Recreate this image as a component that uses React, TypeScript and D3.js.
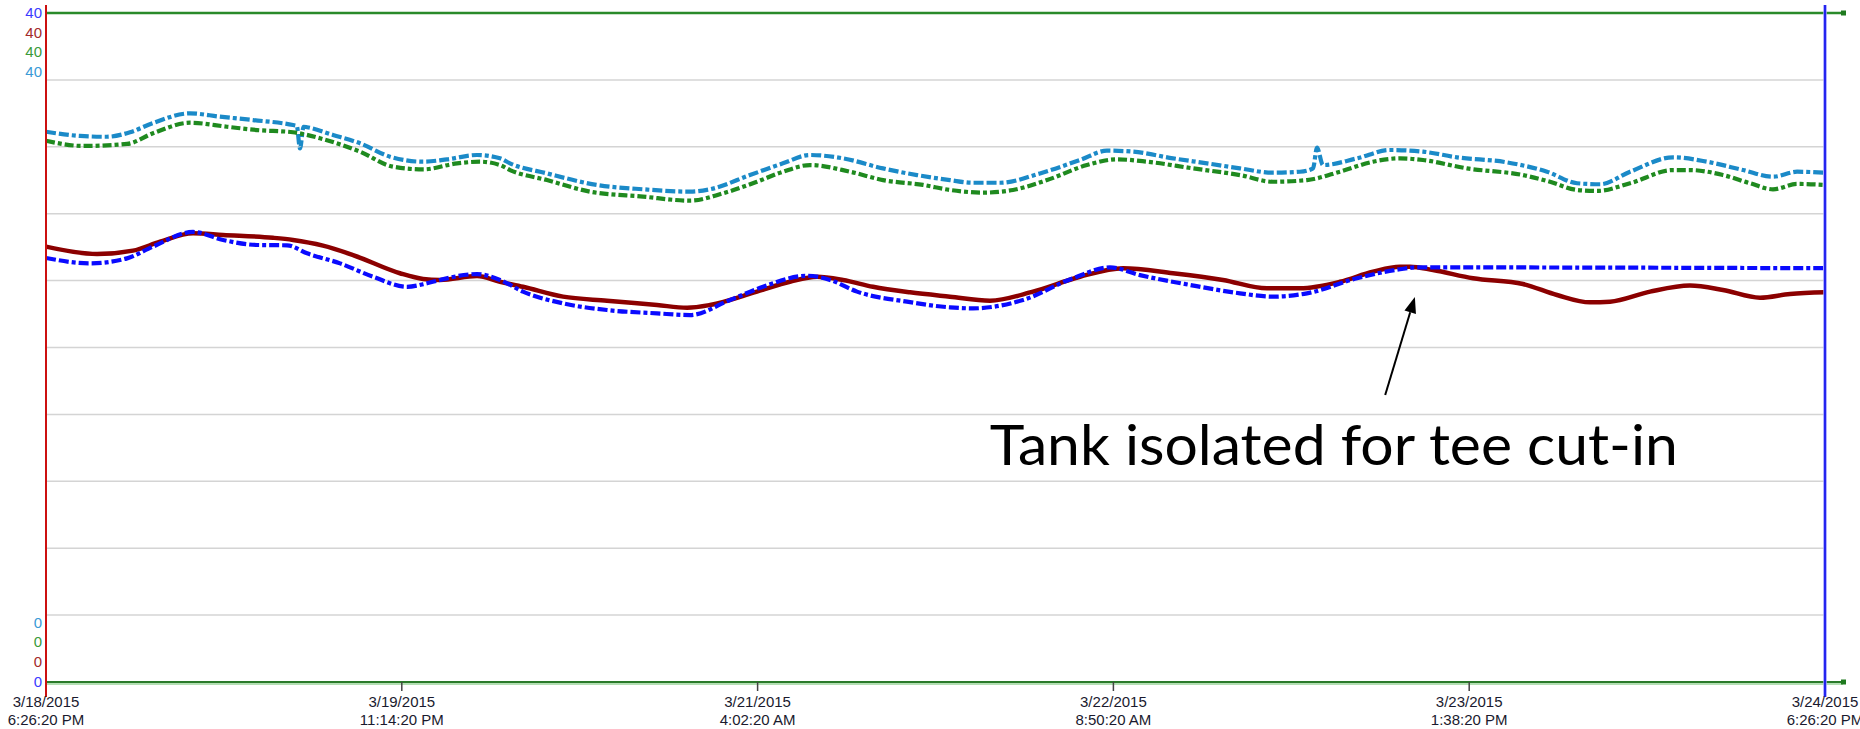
import React from "react";
import * as d3 from "d3";

const W = 1860;
const H = 729;

// time axis (hours after 3/18/2015 6:26:20 PM)
const xTickHours = [0, 28.8, 57.6, 86.4, 115.2, 144];
const xTickDates = ["3/18/2015", "3/19/2015", "3/21/2015", "3/22/2015", "3/23/2015", "3/24/2015"];
const xTickTimes = ["6:26:20 PM", "11:14:20 PM", "4:02:20 AM", "8:50:20 AM", "1:38:20 PM", "6:26:20 PM"];
const yGridValues = [4, 8, 12, 16, 20, 24, 28, 32, 36];

// series: light blue (dash-dot)
const lightBlueHours = [0, 2.75, 4.91, 6.8, 8.66, 11.66, 14.08, 16.76, 19.99, 20.3, 20.56, 20.85, 21.13, 23.23, 25.42, 27.84, 30.52, 32.46, 34.89, 36.75, 37.56, 40.55, 44.6, 48.32, 52.13, 53.75, 56.98, 59.65, 61.84, 64.51, 67.75, 70.5, 73.17, 75.03, 77.22, 80.46, 83.7, 85.88, 87.98, 91.22, 93.98, 96.64, 99.32, 101.5, 102.56, 102.88, 103.36, 106.12, 108.79, 111.46, 114.21, 118.26, 121.5, 123.93, 125.79, 128.22, 131.7, 134.45, 137.37, 139.79, 141.74, 144];
const lightBlueValues = [32.9, 32.65, 32.6, 32.87, 33.42, 34.0, 33.8, 33.6, 33.3, 33.25, 31.9, 33.2, 33.17, 32.71, 32.21, 31.41, 31.11, 31.25, 31.51, 31.31, 31.01, 30.41, 29.72, 29.46, 29.32, 29.46, 30.31, 31.01, 31.51, 31.31, 30.71, 30.31, 30.01, 29.85, 29.85, 30.41, 31.21, 31.77, 31.71, 31.31, 31.01, 30.71, 30.45, 30.51, 30.71, 31.95, 30.91, 31.31, 31.81, 31.71, 31.37, 31.07, 30.51, 29.82, 29.76, 30.51, 31.37, 31.11, 30.61, 30.21, 30.51, 30.45];

// series: green (dash-dot)
const greenHours = [0, 2.99, 6.56, 8.66, 11.66, 14.65, 17.08, 19.99, 22.18, 25.42, 28.09, 30.52, 33.27, 35.13, 36.75, 37.56, 40.55, 44.03, 48.32, 52.13, 54.8, 57.55, 59.65, 61.84, 65.08, 67.75, 70.99, 73.17, 75.84, 78.27, 81.03, 84.26, 86.69, 89.12, 92.84, 96.64, 99.32, 102.07, 104.74, 107.41, 109.6, 111.46, 115.02, 119.55, 121.74, 123.93, 125.55, 128.22, 131.7, 133.07, 135.74, 137.93, 139.79, 141.74, 144];
const greenValues = [32.36, 32.05, 32.17, 32.81, 33.44, 33.2, 33.0, 32.87, 32.51, 31.71, 30.81, 30.65, 31.01, 31.11, 30.91, 30.61, 30.01, 29.32, 29.02, 28.78, 29.22, 29.91, 30.51, 30.91, 30.51, 30.01, 29.72, 29.42, 29.26, 29.42, 30.01, 30.91, 31.25, 31.11, 30.71, 30.31, 29.91, 30.01, 30.51, 31.11, 31.31, 31.21, 30.71, 30.31, 29.91, 29.42, 29.36, 29.82, 30.61, 30.61, 30.31, 29.82, 29.46, 29.78, 29.72];

// series: dark red (solid)
const darkRedHours = [0, 4.13, 7.04, 9.23, 11.9, 14.33, 18.37, 19.99, 22.42, 24.85, 28.65, 30.52, 31.89, 34.89, 36.75, 38.61, 41.85, 45.41, 49.46, 51.89, 53.75, 57.55, 60.22, 62.41, 64.51, 66.94, 69.94, 73.17, 76.41, 79.89, 83.7, 87.18, 91.22, 95.27, 98.83, 101.5, 104.74, 107.41, 109.6, 110.41, 112.27, 115.51, 119.55, 122.31, 124.98, 126.6, 129.84, 133.07, 135.74, 138.74, 141.17, 144];
const darkRedValues = [26.03, 25.59, 25.79, 26.33, 26.83, 26.73, 26.56, 26.43, 26.09, 25.53, 24.44, 24.1, 24.04, 24.27, 23.93, 23.63, 23.04, 22.8, 22.54, 22.38, 22.54, 23.34, 23.93, 24.23, 24.04, 23.63, 23.3, 23.04, 22.8, 23.34, 24.23, 24.74, 24.44, 24.04, 23.54, 23.54, 23.93, 24.53, 24.83, 24.83, 24.63, 24.14, 23.8, 23.14, 22.7, 22.74, 23.34, 23.7, 23.44, 22.98, 23.2, 23.3];

// series: blue (dash-dot)
const blueHours = [0, 3.56, 6.56, 8.66, 11.9, 14.33, 17.08, 19.51, 21.13, 23.8, 26.47, 29.22, 30.84, 31.89, 34.89, 36.75, 38.61, 41.85, 45.41, 49.46, 52.13, 55.37, 58.04, 61.6, 63.46, 65.65, 69.69, 73.17, 75.03, 79.08, 83.13, 86.12, 88.55, 92.6, 96.64, 99.32, 102.07, 106.12, 109.6, 110.98, 144];
const blueValues = [25.35, 25.03, 25.33, 26.03, 26.91, 26.43, 26.13, 26.11, 25.63, 25.03, 24.23, 23.63, 23.84, 24.04, 24.39, 24.04, 23.34, 22.64, 22.24, 22.04, 21.94, 22.84, 23.63, 24.29, 24.04, 23.34, 22.74, 22.4, 22.34, 22.84, 24.14, 24.79, 24.33, 23.74, 23.24, 23.04, 23.24, 24.14, 24.68, 24.79, 24.74];

// annotation (data units)
const annotationText = "Tank isolated for tee cut-in";
const annotationAt = { hour: 76.4, value: 12.95 };
const arrowFrom = { hour: 108.4, value: 17.16 };
const arrowTo = { hour: 110.8, value: 23.02 };

const leftTopLabels = ["40", "40", "40", "40"];
const leftTopColors = ["#3b3bff", "#a32a2a", "#3a9a3a", "#3a9ad6"];
const leftBottomLabels = ["0", "0", "0", "0"];
const leftBottomColors = ["#3a9ad6", "#3a9a3a", "#a32a2a", "#3b3bff"];

export default function App() {
  const X0 = 46, X1 = 1825, YB = 682, YT = 13;
  const x = d3.scaleLinear().domain([0, 144]).range([X0, X1]);
  const y = d3.scaleLinear().domain([0, 40]).range([YB, YT]);
  const mk = (hs: number[], vs: number[]) =>
    d3.line<number>().x((_, i) => x(hs[i])).y((v) => y(v)).curve(d3.curveMonotoneX)(vs) || "";

  const series = [
    { d: mk(lightBlueHours, lightBlueValues), color: "#1b8ac8", w: 4.2, dash: "10,3,10,3,4,3" },
    { d: mk(greenHours, greenValues), color: "#1f8a1f", w: 4.2, dash: "9,3,4,3" },
    { d: mk(darkRedHours, darkRedValues), color: "#8b0000", w: 4.5, dash: "" },
    { d: mk(blueHours, blueValues), color: "#0a0aff", w: 4.2, dash: "10,3,10,3,4,3" },
  ];

  const font = "'Liberation Sans', Arial, sans-serif";
  const ax = x(arrowFrom.hour), ay = y(arrowFrom.value);
  const bx = x(arrowTo.hour), by = y(arrowTo.value);
  const ang = Math.atan2(by - ay, bx - ax);
  const hl = 16, hw = 6;
  const baseX = bx - hl * Math.cos(ang), baseY = by - hl * Math.sin(ang);
  const head = [
    [bx, by],
    [baseX + hw * Math.sin(ang), baseY - hw * Math.cos(ang)],
    [baseX - hw * Math.sin(ang), baseY + hw * Math.cos(ang)],
  ].map((p) => p.join(",")).join(" ");

  return (
    <svg width={W} height={H} style={{ position: "absolute", left: 0, top: 0, background: "#fff" }}>
      {yGridValues.map((v) => (
        <line key={v} x1={X0} x2={X1} y1={y(v)} y2={y(v)} stroke="#d4d4d4" strokeWidth={1.5} />
      ))}
      {series.map((s, i) => (
        <path key={i} d={s.d} fill="none" stroke={s.color} strokeWidth={s.w}
          strokeDasharray={s.dash || undefined} strokeLinejoin="round" />
      ))}
      {/* top & bottom green axes */}
      <line x1={X0} x2={1843} y1={y(40)} y2={y(40)} stroke="#2a8a2a" strokeWidth={2.5} />
      <rect x={1841} y={y(40) - 2.5} width={5} height={5} fill="#1f7a1f" />
      <line x1={X0} x2={1843} y1={y(0) + 2} y2={y(0) + 2} stroke="#9ad49a" strokeWidth={1.5} />
      <line x1={X0} x2={1843} y1={y(0)} y2={y(0)} stroke="#2a7a2a" strokeWidth={2.2} />
      <rect x={1841} y={y(0) - 2.5} width={5} height={5} fill="#1f7a1f" />
      {/* ticks */}
      {xTickHours.map((h, i) => (
        <line key={i} x1={x(h)} x2={x(h)} y1={y(0)} y2={y(0) + 9} stroke="#444" strokeWidth={1.5} />
      ))}
      {/* vertical axes */}
      <line x1={X0} x2={X0} y1={5} y2={697} stroke="#cc1010" strokeWidth={2} />
      <line x1={X1} x2={X1} y1={5} y2={697} stroke="#9a9aff" strokeWidth={3.5} />
      <line x1={X1} x2={X1} y1={5} y2={697} stroke="#1818ee" strokeWidth={1.8} />
      {/* y labels */}
      {leftTopLabels.map((t, i) => (
        <text key={"t" + i} x={42} y={18.2 + i * 19.6} textAnchor="end" fontFamily={font} fontSize={15}
          fill={leftTopColors[i]}>{t}</text>
      ))}
      {leftBottomLabels.map((t, i) => (
        <text key={"b" + i} x={42} y={627.5 + i * 19.7} textAnchor="end" fontFamily={font} fontSize={15}
          fill={leftBottomColors[i]}>{t}</text>
      ))}
      {/* x labels */}
      {xTickHours.map((h, i) => (
        <g key={"x" + i} fontFamily={font} fontSize={15} fill="#1a1a2e" textAnchor="middle">
          <text x={x(h)} y={707}>{xTickDates[i]}</text>
          <text x={x(h)} y={725}>{xTickTimes[i]}</text>
        </g>
      ))}
      {/* annotation */}
      <line x1={ax} y1={ay} x2={baseX} y2={baseY} stroke="#000" strokeWidth={2} />
      <polygon points={head} fill="#000" />
      <text x={x(annotationAt.hour)} y={y(annotationAt.value)} fontFamily="Lato, 'Open Sans', sans-serif"
        fontSize={56} fill="#000" textLength={688} lengthAdjust="spacingAndGlyphs">{annotationText}</text>
    </svg>
  );
}
